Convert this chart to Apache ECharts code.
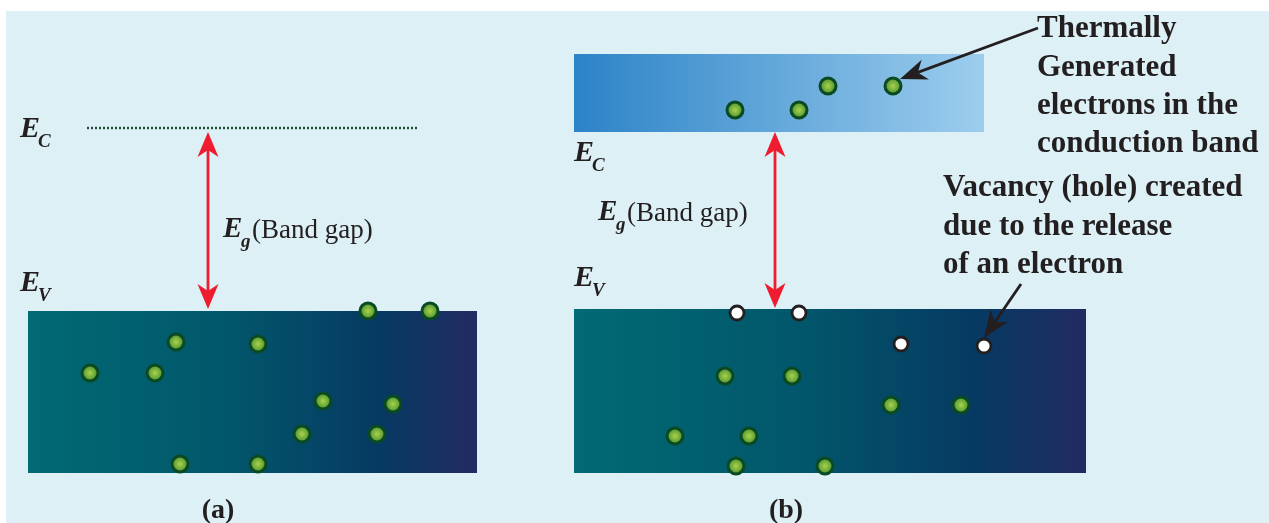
<!DOCTYPE html>
<html>
<head>
<meta charset="utf-8">
<script src="https://cdn.jsdelivr.net/npm/echarts@6/dist/echarts.min.js"></script>
<style>html,body{margin:0;padding:0;background:#fff;}#c{width:1269px;height:523px;}</style>
</head>
<body>
<div id="c"></div>
<script>
// ---- data (diagram coordinates) ----
const valenceBands = [[28, 311, 477, 473], [574, 309, 1086, 473]];
const conductionBands = [[574, 54, 984, 132]];
const ecDottedLevel = [[87, 128], [418, 128]];
const gapArrows = [[208, 132, 309], [775, 132, 308]];
const pointerArrows = [[1038, 28, 900, 79], [1021, 284, 984, 338]];
const electronsA = [[368, 311], [430, 311], [176, 342], [258, 344], [90, 373], [155, 373], [323, 401], [393, 404], [302, 434], [377, 434], [180, 464], [258, 464]];
const electronsConductionB = [[735, 110], [799, 110], [828, 86], [893, 86]];
const electronsValenceB = [[725, 376], [792, 376], [891, 405], [961, 405], [675, 436], [749, 436], [736, 466], [825, 466]];
const holesB = [[737, 313], [799, 313], [901, 344], [984, 346]];
const noteElectrons = ['Thermally', 'Generated', 'electrons in the', 'conduction band'];
const noteHoles = ['Vacancy (hole) created', 'due to the release', 'of an electron'];
const bandGapText = '(Band gap)';
const panelLabels = ['(a)', '(b)'];

const W = 1269, H = 523;
const SERIF = '"Liberation Serif", "DejaVu Serif", serif';
const INK = '#231f20';

const chart = echarts.init(document.getElementById('c'), null, {renderer: 'canvas'});

function bandGradient(kind) {
  if (kind === 'valence') {
    return new echarts.graphic.LinearGradient(0, 0, 1, 0, [
      {offset: 0, color: '#016a73'},
      {offset: 0.45, color: '#02566b'},
      {offset: 0.78, color: '#063a62'},
      {offset: 1, color: '#222a62'}
    ]);
  }
  return new echarts.graphic.LinearGradient(0, 0, 1, 0, [
    {offset: 0, color: '#2c83c7'},
    {offset: 1, color: '#9dcdee'}
  ]);
}

function bandSeries(arr, kind) {
  return {
    type: 'custom', coordinateSystem: 'cartesian2d', z: 1, silent: true,
    data: arr,
    renderItem: function (params, api) {
      const p0 = api.coord([api.value(0), api.value(1)]);
      const p1 = api.coord([api.value(2), api.value(3)]);
      return {
        type: 'rect',
        shape: {x: p0[0], y: p0[1], width: p1[0] - p0[0], height: p1[1] - p0[1]},
        style: {fill: bandGradient(kind)}
      };
    }
  };
}

function headPoints(tip, dir, len, halfW, notch) {
  const px = -dir[1], py = dir[0];
  const bx = tip[0] - dir[0] * len, by = tip[1] - dir[1] * len;
  const nx = tip[0] - dir[0] * (len - notch), ny = tip[1] - dir[1] * (len - notch);
  return {
    pts: [tip, [bx + px * halfW, by + py * halfW], [nx, ny], [bx - px * halfW, by - py * halfW]],
    notch: [nx, ny]
  };
}

const gapArrowSeries = {
  type: 'custom', coordinateSystem: 'cartesian2d', z: 3, silent: true,
  data: gapArrows,
  renderItem: function (params, api) {
    const top = api.coord([api.value(0), api.value(1)]);
    const bot = api.coord([api.value(0), api.value(2)]);
    const h1 = headPoints(top, [0, -1], 25, 10.5, 7);
    const h2 = headPoints(bot, [0, 1], 25, 10.5, 7);
    const col = '#ee1c2e';
    return {
      type: 'group',
      children: [
        {type: 'line', shape: {x1: h1.notch[0], y1: h1.notch[1], x2: h2.notch[0], y2: h2.notch[1]}, style: {stroke: col, lineWidth: 2.8}},
        {type: 'polygon', shape: {points: h1.pts}, style: {fill: col}},
        {type: 'polygon', shape: {points: h2.pts}, style: {fill: col}}
      ]
    };
  }
};

const pointerSeries = {
  type: 'custom', coordinateSystem: 'cartesian2d', z: 5, silent: true,
  data: pointerArrows,
  renderItem: function (params, api) {
    const s = api.coord([api.value(0), api.value(1)]);
    const t = api.coord([api.value(2), api.value(3)]);
    const dx = t[0] - s[0], dy = t[1] - s[1];
    const L = Math.sqrt(dx * dx + dy * dy);
    const dir = [dx / L, dy / L];
    const h = headPoints(t, dir, 27, 10.5, 8);
    return {
      type: 'group',
      children: [
        {type: 'line', shape: {x1: s[0], y1: s[1], x2: h.notch[0], y2: h.notch[1]}, style: {stroke: INK, lineWidth: 2.8}},
        {type: 'polygon', shape: {points: h.pts}, style: {fill: INK}}
      ]
    };
  }
};

const electronStyle = {
  color: new echarts.graphic.RadialGradient(0.5, 0.5, 0.5, [
    {offset: 0, color: '#a9d24c'},
    {offset: 1, color: '#3a862a'}
  ]),
  borderColor: '#0a4a22',
  borderWidth: 3,
  opacity: 1
};

function electronSeries(arr) {
  return {type: 'scatter', data: arr, symbol: 'circle', symbolSize: 16, z: 4, silent: true, itemStyle: electronStyle};
}

// ---- text helpers (baseline positioned) ----
function txt(x, baseline, str, size, opts) {
  opts = opts || {};
  const font = (opts.style || 'normal') + ' ' + (opts.weight || 'normal') + ' ' + size + 'px ' + SERIF;
  return {
    type: 'text', x: x, y: baseline - 0.31 * size, z: 100, silent: true,
    style: {text: str, font: font, fill: INK, textAlign: opts.align || 'left', textVerticalAlign: 'middle'}
  };
}

function energyLabel(x, baseline, sub) {
  return [
    txt(x, baseline, 'E', 30, {style: 'italic', weight: 'bold'}),
    txt(x + 18, baseline + 9, sub, 19, {style: 'italic', weight: 'bold'})
  ];
}

function gapLabel(x, baseline) {
  return [
    txt(x, baseline, 'E', 29, {style: 'italic', weight: 'bold'}),
    txt(x + 18, baseline + 9, 'g', 19, {style: 'italic', weight: 'bold'}),
    txt(x + 29, baseline, bandGapText, 27, {})
  ];
}

let texts = [];
texts = texts.concat(energyLabel(20, 139, 'C'), energyLabel(20, 293, 'V'));
texts = texts.concat(energyLabel(574, 163, 'C'), energyLabel(574, 288, 'V'));
texts = texts.concat(gapLabel(223, 239), gapLabel(598, 222));
noteElectrons.forEach(function (s, i) { texts.push(txt(1037, 39 + i * 38.3, s, 31, {weight: 'bold'})); });
noteHoles.forEach(function (s, i) { texts.push(txt(943, 198 + i * 38.3, s, 31, {weight: 'bold'})); });
texts.push(txt(218, 519, panelLabels[0], 28, {weight: 'bold', align: 'center'}));
texts.push(txt(786, 519, panelLabels[1], 28, {weight: 'bold', align: 'center'}));

const option = {
  backgroundColor: '#ffffff',
  animation: false,
  grid: {left: 0, right: 0, top: 0, bottom: 0},
  xAxis: {type: 'value', min: 0, max: W, show: false},
  yAxis: {type: 'value', min: 0, max: H, inverse: true, show: false},
  graphic: [{
    type: 'rect', left: 6, top: 11, z: -10, silent: true,
    shape: {width: W - 6, height: H - 11},
    style: {fill: '#dcf0f6'}
  }].concat(texts),
  series: [
    bandSeries(valenceBands, 'valence'),
    bandSeries(conductionBands, 'conduction'),
    {
      type: 'line', data: ecDottedLevel, symbol: 'none', z: 2, silent: true,
      lineStyle: {color: '#1a4d33', width: 2.4, type: [2, 2]}
    },
    gapArrowSeries,
    pointerSeries,
    electronSeries(electronsA),
    electronSeries(electronsConductionB),
    electronSeries(electronsValenceB),
    {
      type: 'scatter', data: holesB, symbol: 'circle', symbolSize: 14, z: 4, silent: true,
      itemStyle: {color: '#ffffff', borderColor: INK, borderWidth: 2.8, opacity: 1}
    }
  ]
};
chart.setOption(option);
</script>
</body>
</html>
